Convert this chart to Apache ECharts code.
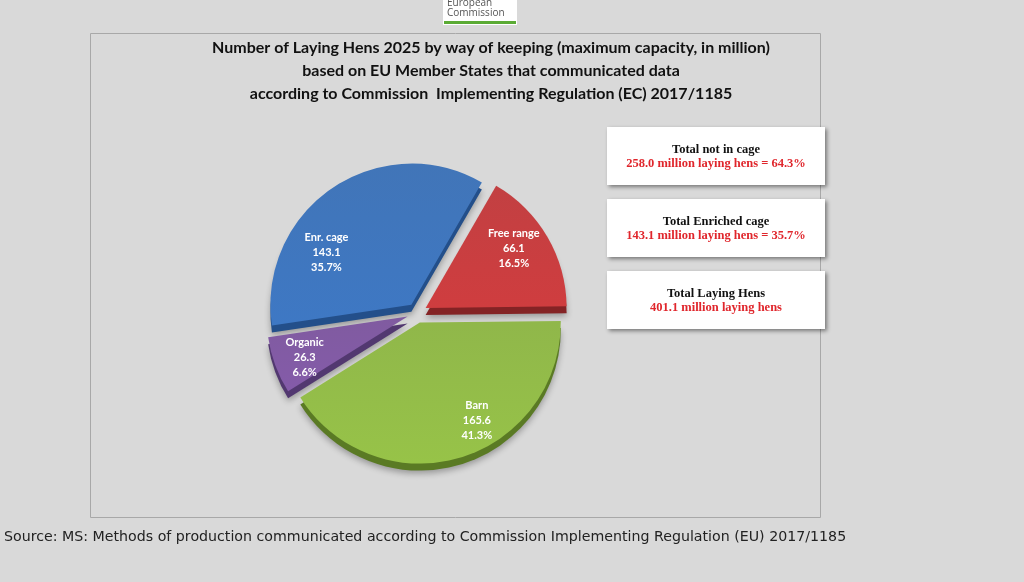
<!DOCTYPE html>
<html><head><meta charset="utf-8">
<script src="https://cdn.jsdelivr.net/npm/echarts@6/dist/echarts.min.js"></script>
<style>html,body{margin:0;padding:0;background:#d9d9d9}#c{width:1024px;height:582px}</style>
</head><body><div id="c"></div>
<script>
const categories = ['Free range', 'Barn', 'Organic', 'Enr. cage'];
const values = [66.1, 165.6, 26.3, 143.1];
const topColors = ['#c0393b', '#8cb543', '#7b559d', '#3a70b6'];
const sideColors = ['#842325', '#5a7a24', '#523870', '#234f8a'];
const titleLines = [
  'Number of Laying Hens 2025 by way of keeping (maximum capacity, in million)',
  'based on EU Member States that communicated data',
  'according to Commission  Implementing Regulation (EC) 2017/1185'
];
const boxTitles = ['Total not in cage', 'Total Enriched cage', 'Total Laying Hens'];
const boxValues = ['258.0 million laying hens = 64.3%', '143.1 million laying hens = 35.7%', '401.1 million laying hens'];
const sourceText = 'Source: MS: Methods of production communicated according to Commission Implementing Regulation (EU) 2017/1185';

const total = values.reduce((a, b) => a + b, 0);
const CX = 417, CY = 313, R = 141, DEPTH = 7;
// label nudges per slice: horizontal padding [right, left], blank lines [above, below]
const labelPadsX = [[26, 0], [0, 48], [0, 14], [38, 0]];
const labelBlank = [[0, 0], [0, 2], [0, 0], [6, 0]];

function mkData(colors, withGrad) {
  return categories.map((n, i) => ({
    name: n, value: values[i], selected: true,
    itemStyle: { color: withGrad ? {
      type: 'linear', x: 0, y: 0, x2: 0, y2: 1,
      colorStops: [{offset: 0, color: echarts.color.lift(colors[i], 0.04)}, {offset: 1, color: echarts.color.lift(colors[i], -0.08)}]
    } : colors[i] }
  }));
}
const common = {
  type: 'pie', startAngle: 60, clockwise: true, selectedMode: 'multiple',
  selectedOffset: 10, animation: false, silent: true,
  labelLine: { show: false }
};

const chart = echarts.init(document.getElementById('c'));
const boxGraphics = [];
const boxYs = [127, 199, 271];
boxYs.forEach((y, i) => {
  boxGraphics.push({ type: 'rect', shape: { x: 607, y: y, width: 218, height: 58 },
    style: { fill: '#ffffff', shadowBlur: 4, shadowOffsetX: 2, shadowOffsetY: 2, shadowColor: 'rgba(0,0,0,0.45)' } });
  boxGraphics.push({ type: 'text', x: 716, y: y + 23, style: { text: boxTitles[i], fill: '#111', font: 'bold 12.5px "Liberation Serif"', align: 'center', verticalAlign: 'middle' } });
  boxGraphics.push({ type: 'text', x: 716, y: y + 37, style: { text: boxValues[i], fill: '#e0262c', font: 'bold 12.5px "Liberation Serif"', align: 'center', verticalAlign: 'middle' } });
});

function labelText(p) {
  const i = p.dataIndex;
  const body = p.name + '\n' + p.value.toFixed(1) + '\n' + (p.value / total * 100).toFixed(1) + '%';
  return '\n'.repeat(labelBlank[i][0]) + body + '\n'.repeat(labelBlank[i][1]);
}

chart.setOption({
  backgroundColor: '#d9d9d9',
  title: {
    text: titleLines.join('\n'), left: 486, top: 31, textAlign: 'center',
    textStyle: { fontFamily: 'Lato', fontWeight: 'bold', fontSize: 16, color: '#111', lineHeight: 23 }
  },
  graphic: [
    { type: 'rect', shape: { x: 90.5, y: 33.5, width: 730, height: 484 }, style: { fill: 'none', stroke: '#a8a8a8', lineWidth: 1 } },
    { type: 'rect', shape: { x: 443, y: -2, width: 74, height: 27 }, style: { fill: '#ffffff' } },
    { type: 'text', x: 447, y: 3, style: { text: 'European', fill: '#555', font: '10px "Open Sans"', verticalAlign: 'middle' } },
    { type: 'text', x: 447, y: 13, style: { text: 'Commission', fill: '#555', font: '10px "Open Sans"', verticalAlign: 'middle' } },
    { type: 'rect', shape: { x: 444, y: 21, width: 72, height: 3 }, style: { fill: '#5bab35' } },
    { type: 'text', x: 4, y: 537, style: { text: sourceText, fill: '#222', font: '14.2px "DejaVu Sans"', verticalAlign: 'middle' } }
  ].concat(boxGraphics),
  series: [
    Object.assign({}, common, {
      name: 'side', center: [CX, CY + DEPTH], radius: [0, R], z: 1,
      label: { show: false },
      itemStyle: { shadowBlur: 6, shadowColor: 'rgba(0,0,0,0.3)', shadowOffsetY: 3 },
      data: mkData(sideColors, false)
    }),
    Object.assign({}, common, {
      name: 'top', center: [CX, CY], radius: [0, R], z: 2,
      label: { show: false },
      data: mkData(topColors, true)
    }),
    Object.assign({}, common, {
      name: 'labels', center: [CX, CY], radius: [R * 0.62, R], z: 3,
      itemStyle: { color: 'rgba(0,0,0,0)' },
      label: { show: true, position: 'inside', color: '#ffffff', formatter: labelText,
        fontFamily: 'Lato', fontWeight: 'bold', fontSize: 11, lineHeight: 15 },
      data: categories.map((n, i) => ({ name: n, value: values[i], selected: true,
        label: { padding: [0, labelPadsX[i][0], 0, labelPadsX[i][1]] } }))
    })
  ]
});
</script></body></html>
